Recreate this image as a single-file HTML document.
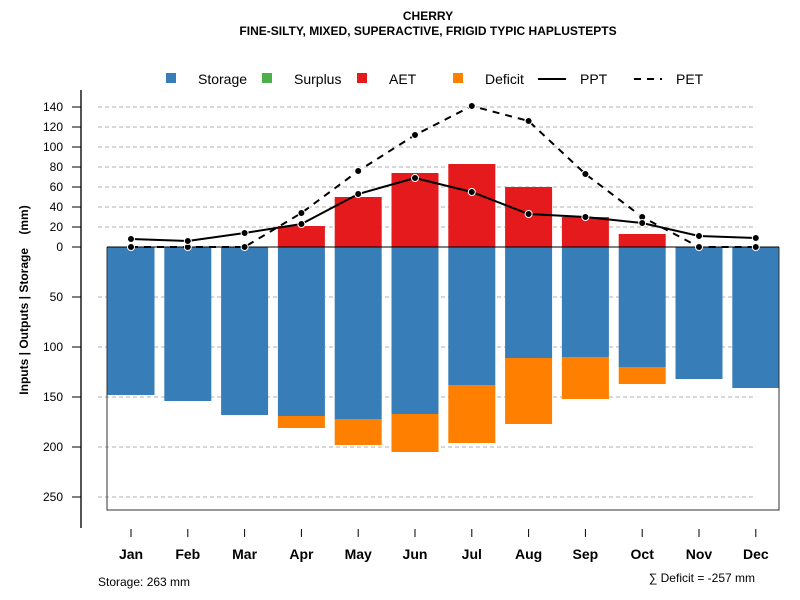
<!DOCTYPE html>
<html><head><meta charset="utf-8"><style>
body{margin:0;background:#fff}
svg{display:block;font-family:"Liberation Sans",Arial,sans-serif}
</style></head><body>
<svg id="chart" width="800" height="600" xmlns="http://www.w3.org/2000/svg">
<text x="428" y="20" text-anchor="middle" font-size="12" font-weight="bold">CHERRY</text>
<text x="428" y="35" text-anchor="middle" font-size="12" font-weight="bold">FINE-SILTY, MIXED, SUPERACTIVE, FRIGID TYPIC HAPLUSTEPTS</text>
<g font-size="14">
<g><rect x="166" y="73" width="10" height="10" fill="#377eb8"/><text x="198" y="84">Storage</text></g>
<g><rect x="262" y="73" width="10" height="10" fill="#4daf4a"/><text x="294" y="84">Surplus</text></g>
<g><rect x="357" y="73" width="10" height="10" fill="#e41a1c"/><text x="389" y="84">AET</text></g>
<g><rect x="453" y="73" width="10" height="10" fill="#ff7f00"/><text x="485" y="84">Deficit</text></g>
<g><line x1="538" y1="79" x2="566" y2="79" stroke="#000" stroke-width="2"/><text x="580" y="84">PPT</text></g>
<g><line x1="634" y1="79" x2="662" y2="79" stroke="#000" stroke-width="2" stroke-dasharray="7,6"/><text x="676" y="84">PET</text></g>
</g>
<text transform="translate(28,300) rotate(-90)" text-anchor="middle" font-size="12" font-weight="bold" style="white-space:pre" xml:space="preserve">Inputs | Outputs | Storage    (mm)</text>
<g id="grid"></g><g id="bars"></g><g id="box"></g><g id="lines"></g><g id="axes"></g>
<text x="98" y="586" font-size="12">Storage: 263 mm</text>
<text x="755" y="582" text-anchor="end" font-size="12">∑ Deficit = -257 mm</text>
</svg>
<script>
const months=["Jan","Feb","Mar","Apr","May","Jun","Jul","Aug","Sep","Oct","Nov","Dec"];
const storage=[148,154,168,169,172,167,138,111,110,120,132,141];
const deficit=[0,0,0,12,26,38,58,66,42,17,0,0];
const surplus=[0,0,0,0,0,0,0,0,0,0,0,0];
const aet=[0,0,0,21,50,74,83,60,30,13,0,0];
const ppt=[8,6,14,23,53,69,55,33,30,24,11,9];
const pet=[0,0,0,34,76,112,141,126,73,30,0,0];
const upTicks=[0,20,40,60,80,100,120,140];
const downTicks=[50,100,150,200,250];
const maxStorage=263;
const NS="http://www.w3.org/2000/svg";
const y0=247, k=1.0;
function yUp(v){return y0-v*k;}
function yDn(v){return y0+v*k;}
function xC(i){return 131+i*56.8;}
const bw=47;
function mk(p,tag,attrs){const e=document.createElementNS(NS,tag);for(const a in attrs)e.setAttribute(a,attrs[a]);p.appendChild(e);return e;}
const grid=document.getElementById('grid'),bars=document.getElementById('bars'),lines=document.getElementById('lines'),axes=document.getElementById('axes'),box=document.getElementById('box');
upTicks.concat(downTicks.map(v=>-v)).forEach(v=>{
 if(v===0)return;
 const y=v>0?yUp(v):yDn(-v);
 const g=mk(grid,'line',{x1:98,x2:756,y1:y,y2:y,stroke:'#b0b0b0','stroke-dasharray':'4,3'});
 
 
});
months.forEach((m,i)=>{
 const x=xC(i)-bw/2;
 let r=mk(bars,'rect',{x:x,y:y0,width:bw,height:storage[i]*k,fill:'#377eb8'});
 
 
 if(deficit[i]>0){r=mk(bars,'rect',{x:x,y:yDn(storage[i]),width:bw,height:deficit[i]*k,fill:'#ff7f00'});
 
 }
 if(aet[i]>0){r=mk(bars,'rect',{x:x,y:yUp(aet[i]),width:bw,height:aet[i]*k,fill:'#e41a1c'});
 
 }
 if(surplus[i]>0){r=mk(bars,'rect',{x:x,y:yUp(aet[i]+surplus[i]),width:bw,height:surplus[i]*k,fill:'#4daf4a'});
 
 }
});
const bl=107,br=779,bb=yDn(maxStorage);
let bx=mk(box,'path',{d:`M${bl},${y0}V${bb}H${br}V${y0}`,fill:'none',stroke:'#333','stroke-width':1});


let zl=mk(box,'line',{x1:bl,x2:br,y1:y0,y2:y0,stroke:'#000','stroke-width':1});


function series(arr,name,dash){
 const pts=arr.map((v,i)=>xC(i)+','+yUp(v)).join(' ');
 const pl=mk(lines,'polyline',{points:pts,fill:'none',stroke:'#000','stroke-width':2,'stroke-dasharray':dash||'none'});
 
 
 arr.forEach((v,i)=>{const c=mk(lines,'circle',{cx:xC(i),cy:yUp(v),r:3.5,fill:'#000',stroke:'#fff','stroke-width':1});
 
 });
}
series(pet,'pet','7,6');
series(ppt,'ppt');
let ax=mk(axes,'line',{x1:81,x2:81,y1:90,y2:528,stroke:'#555','stroke-width':2});


upTicks.forEach(v=>{const y=yUp(v);mk(axes,'line',{x1:72,x2:81,y1:y,y2:y,stroke:'#000'});
 const t=mk(axes,'text',{x:63,y:y+4,'text-anchor':'end','font-size':12});t.textContent=v;
 
 });
downTicks.forEach(v=>{const y=yDn(v);mk(axes,'line',{x1:72,x2:81,y1:y,y2:y,stroke:'#000'});
 const t=mk(axes,'text',{x:63,y:y+4,'text-anchor':'end','font-size':12});t.textContent=v;
 
 });
months.forEach((m,i)=>{mk(axes,'line',{x1:xC(i),x2:xC(i),y1:529,y2:537,stroke:'#000'});
 const t=mk(axes,'text',{x:xC(i),y:559,'text-anchor':'middle','font-size':14,'font-weight':'bold'});t.textContent=m;
 
 });
</script>
</body></html>
